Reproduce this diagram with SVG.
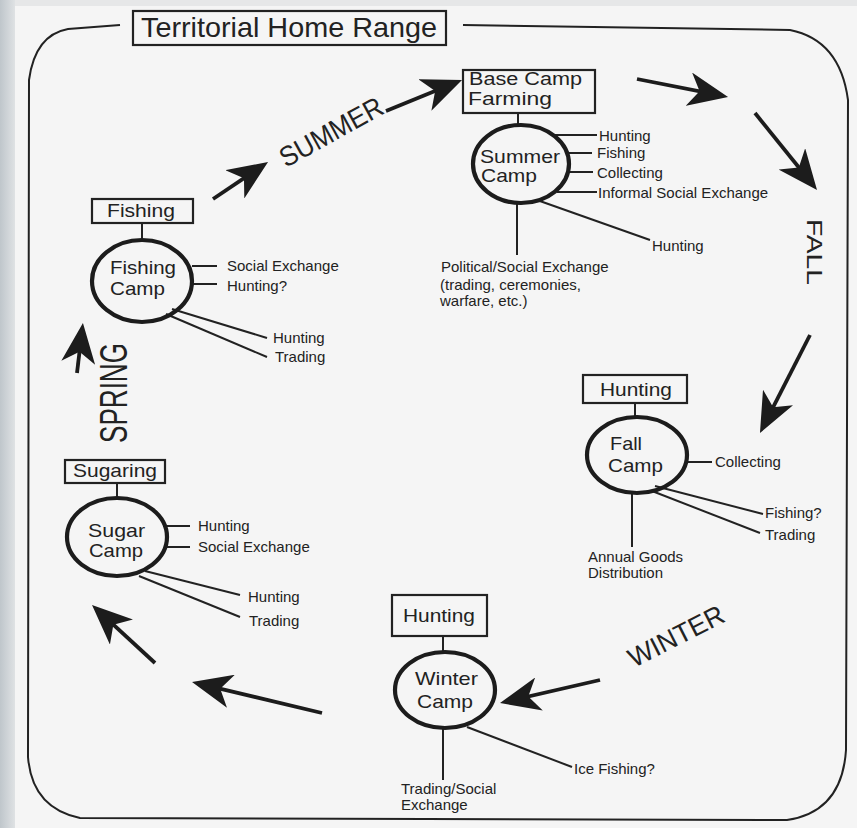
<svg xmlns="http://www.w3.org/2000/svg" width="857" height="828" viewBox="0 0 857 828">
<defs>
<linearGradient id="strip" x1="0" y1="0" x2="1" y2="0">
<stop offset="0" stop-color="#bfc6cb"/>
<stop offset="1" stop-color="#dfe2e4"/>
</linearGradient>
<marker id="head" viewBox="0 0 40 34" refX="32" refY="17" markerWidth="40" markerHeight="34" markerUnits="userSpaceOnUse" orient="auto">
<path d="M0,0 L40,17 L0,34 L11,17 Z" fill="#1c1c1c"/>
</marker>
<style>
text{font-family:"Liberation Sans",Arial,Helvetica,sans-serif;fill:#222}
.t{font-size:19px}
.s{font-size:15px}
.box{fill:none;stroke:#222;stroke-width:2.2}
.camp{fill:none;stroke:#1c1c1c;stroke-width:4.2}
.ln{stroke:#222;stroke-width:2;fill:none}
.arr{stroke:#1c1c1c;stroke-width:3.8;fill:none;marker-end:url(#head)}
</style>
</defs>
<rect x="0" y="0" width="857" height="828" fill="#f5f5f5"/>
<rect x="0" y="0" width="857" height="6" fill="#e6e7e8"/>
<rect x="0" y="0" width="15" height="828" fill="url(#strip)"/>

<g id="frame">
<path d="M463,25 L790,30 Q840,40 848,100 L846,750 Q842,812 787,820 L80,818 Q32,808 28,757 L29,80 Q35,35 68,29 L120,25" class="ln" stroke-width="2.6"/>
</g>

<g id="title">
<rect x="133" y="11" width="313" height="34" class="box" stroke-width="2.6"/>
<text x="289" y="37" font-size="28" text-anchor="middle" textLength="296" lengthAdjust="spacingAndGlyphs">Territorial Home Range</text>
</g>

<g id="connectors">
<line x1="518" y1="113" x2="518" y2="126" class="ln"/>
<line x1="553" y1="135" x2="597" y2="135" class="ln"/>
<line x1="568" y1="153" x2="592" y2="153" class="ln"/>
<line x1="569" y1="172" x2="593" y2="172" class="ln"/>
<line x1="557" y1="192" x2="597" y2="192" class="ln" stroke-width="3"/>
<line x1="537" y1="200" x2="650" y2="240" class="ln"/>
<line x1="517" y1="203" x2="517" y2="255" class="ln"/>

<line x1="142" y1="223" x2="142" y2="240" class="ln"/>
<line x1="192" y1="266" x2="217" y2="266" class="ln"/>
<line x1="190" y1="284" x2="217" y2="284" class="ln"/>
<line x1="172" y1="309" x2="267" y2="338" class="ln"/>
<line x1="166" y1="314" x2="267" y2="357" class="ln"/>

<line x1="117" y1="483" x2="117" y2="498" class="ln"/>
<line x1="163" y1="526" x2="190" y2="526" class="ln" stroke-width="2.5"/>
<line x1="165" y1="547" x2="190" y2="547" class="ln" stroke-width="2.5"/>
<line x1="145" y1="571" x2="240" y2="595" class="ln"/>
<line x1="139" y1="576" x2="240" y2="617" class="ln"/>

<line x1="635" y1="403" x2="635" y2="417" class="ln"/>
<line x1="687" y1="462" x2="712" y2="462" class="ln" stroke-width="2.5"/>
<line x1="655" y1="486" x2="763" y2="514" class="ln"/>
<line x1="652" y1="491" x2="760" y2="533" class="ln"/>
<line x1="632" y1="493" x2="632" y2="547" class="ln"/>

<line x1="443" y1="636" x2="443" y2="652" class="ln"/>
<line x1="443" y1="728" x2="443" y2="780" class="ln"/>
<line x1="467" y1="727" x2="572" y2="767" class="ln"/>

<line x1="213" y1="199" x2="261.4" y2="166.5" class="arr"/>
<line x1="386" y1="111" x2="454.6" y2="83" class="arr"/>
<line x1="637" y1="79" x2="720.2" y2="95.4" class="arr"/>
<line x1="755" y1="113" x2="812" y2="183.8" class="arr"/>
<line x1="810" y1="335" x2="763.6" y2="425.9" class="arr"/>
<line x1="600" y1="680" x2="507.8" y2="701.2" class="arr"/>
<line x1="322" y1="713" x2="199.8" y2="683.9" class="arr"/>
<line x1="155" y1="663" x2="97.9" y2="610.4" class="arr"/>
<line x1="77" y1="373" x2="82" y2="330.9" class="arr"/>
</g>

<g id="seasons">
<text x="286" y="168" font-size="28" textLength="114" lengthAdjust="spacingAndGlyphs" transform="rotate(-29 286 168)">SUMMER</text>
<text x="807" y="219" font-size="22" textLength="66" lengthAdjust="spacingAndGlyphs" transform="rotate(90 807 219)">FALL</text>
<text x="634" y="668" font-size="27" textLength="104" lengthAdjust="spacingAndGlyphs" transform="rotate(-27 634 668)">WINTER</text>
<text x="127" y="443" font-size="38" textLength="100" lengthAdjust="spacingAndGlyphs" transform="rotate(-90 127 443)">SPRING</text>
</g>

<g id="base-camp">
<rect x="463" y="70" width="132" height="43" class="box"/>
<text x="469" y="85" font-size="17.5" textLength="113" lengthAdjust="spacingAndGlyphs">Base Camp</text>
<text x="468" y="105" font-size="17.5" textLength="84" lengthAdjust="spacingAndGlyphs">Farming</text>
</g>

<g id="summer-camp">
<ellipse cx="521" cy="164" rx="48" ry="39" class="camp"/>
<text x="480" y="163" class="t" textLength="80" lengthAdjust="spacingAndGlyphs">Summer</text>
<text x="481" y="182" class="t" textLength="56" lengthAdjust="spacingAndGlyphs">Camp</text>
<text x="599" y="141" class="s">Hunting</text>
<text x="597" y="158" class="s">Fishing</text>
<text x="597" y="178" class="s">Collecting</text>
<text x="598" y="198" class="s">Informal Social Exchange</text>
<text x="652" y="251" class="s">Hunting</text>
<text x="441" y="272" class="s">Political/Social Exchange</text>
<text x="440" y="290" class="s">(trading, ceremonies,</text>
<text x="440" y="306" class="s">warfare, etc.)</text>
</g>

<g id="fishing">
<rect x="92" y="199" width="101" height="24" class="box"/>
<text x="107" y="217" class="t" textLength="68" lengthAdjust="spacingAndGlyphs">Fishing</text>
</g>

<g id="fishing-camp">
<ellipse cx="142" cy="281" rx="50" ry="41" class="camp"/>
<text x="110" y="274" class="t" textLength="66" lengthAdjust="spacingAndGlyphs">Fishing</text>
<text x="110" y="295" class="t" textLength="55" lengthAdjust="spacingAndGlyphs">Camp</text>
<text x="227" y="271" class="s">Social Exchange</text>
<text x="227" y="291" class="s">Hunting?</text>
<text x="273" y="343" class="s">Hunting</text>
<text x="275" y="362" class="s">Trading</text>
</g>

<g id="sugaring">
<rect x="65" y="460" width="100" height="23" class="box"/>
<text x="73" y="477" class="t" textLength="84" lengthAdjust="spacingAndGlyphs">Sugaring</text>
</g>

<g id="sugar-camp">
<ellipse cx="117" cy="537" rx="50" ry="39" class="camp"/>
<text x="88" y="537" class="t" textLength="57" lengthAdjust="spacingAndGlyphs">Sugar</text>
<text x="89" y="557" class="t" textLength="54" lengthAdjust="spacingAndGlyphs">Camp</text>
<text x="198" y="531" class="s">Hunting</text>
<text x="198" y="552" class="s">Social Exchange</text>
<text x="248" y="602" class="s">Hunting</text>
<text x="249" y="626" class="s">Trading</text>
</g>

<g id="fall-hunting">
<rect x="583" y="375" width="104" height="28" class="box"/>
<text x="600" y="396" class="t" textLength="72" lengthAdjust="spacingAndGlyphs">Hunting</text>
</g>

<g id="fall-camp">
<ellipse cx="637" cy="455" rx="50" ry="38" class="camp"/>
<text x="610" y="450" class="t" textLength="32" lengthAdjust="spacingAndGlyphs">Fall</text>
<text x="608" y="472" class="t" textLength="55" lengthAdjust="spacingAndGlyphs">Camp</text>
<text x="715" y="467" class="s">Collecting</text>
<text x="765" y="518" class="s">Fishing?</text>
<text x="765" y="540" class="s">Trading</text>
<text x="588" y="562" class="s">Annual Goods</text>
<text x="588" y="578" class="s">Distribution</text>
</g>

<g id="winter-hunting">
<rect x="392" y="595" width="95" height="41" class="box"/>
<text x="403" y="622" class="t" textLength="72" lengthAdjust="spacingAndGlyphs">Hunting</text>
</g>

<g id="winter-camp">
<ellipse cx="445" cy="690" rx="50" ry="38" class="camp"/>
<text x="415" y="685" class="t" textLength="63" lengthAdjust="spacingAndGlyphs">Winter</text>
<text x="417" y="708" class="t" textLength="56" lengthAdjust="spacingAndGlyphs">Camp</text>
<text x="574" y="774" class="s">Ice Fishing?</text>
<text x="401" y="794" class="s">Trading/Social</text>
<text x="401" y="810" class="s">Exchange</text>
</g>
</svg>
